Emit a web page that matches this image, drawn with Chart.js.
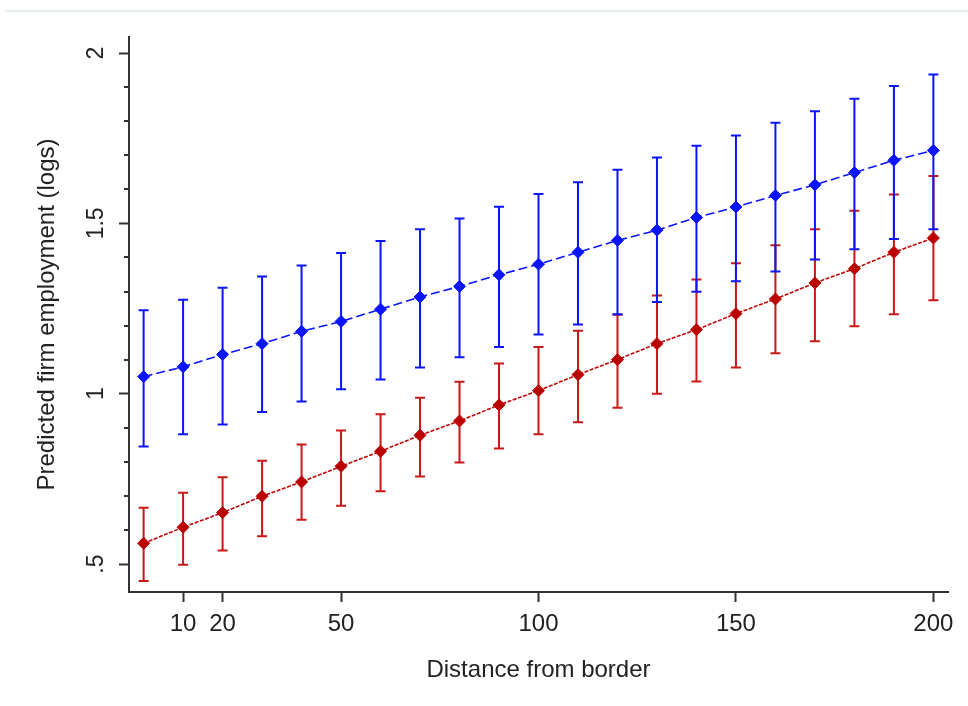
<!DOCTYPE html>
<html>
<head>
<meta charset="utf-8">
<script src="https://cdn.jsdelivr.net/npm/chart.js@4"></script>
<style>
  body { margin: 0; background: #fff; }
  #wrap { position: relative; width: 968px; height: 706px; }
  #topline { position: absolute; left: 5px; right: 0; top: 10px; height: 2px; background: #e8f0ef; }
</style>
</head>
<body>
<div id="wrap">
  <div id="topline"></div>
  <canvas id="c" width="968" height="706"></canvas>
</div>
<script>
// distance from border
const distance = [0, 10, 20, 30, 40, 50, 60, 70, 80, 90, 100, 110, 120, 130, 140, 150, 160, 170, 180, 190, 200];

// blue series: prediction with 95% CI
const blueMean = [1.050, 1.079, 1.115, 1.147, 1.183, 1.212, 1.248, 1.284, 1.315, 1.349, 1.380, 1.415, 1.450, 1.480, 1.517, 1.548, 1.582, 1.613, 1.649, 1.685, 1.714];
const blueLow  = [0.845, 0.881, 0.910, 0.946, 0.977, 1.013, 1.042, 1.077, 1.107, 1.137, 1.174, 1.203, 1.233, 1.269, 1.299, 1.330, 1.359, 1.394, 1.424, 1.454, 1.483];
const blueHigh = [1.245, 1.276, 1.311, 1.344, 1.376, 1.413, 1.448, 1.483, 1.514, 1.549, 1.586, 1.621, 1.657, 1.693, 1.728, 1.758, 1.795, 1.829, 1.866, 1.903, 1.937];

// red series
const redMean = [0.561, 0.608, 0.651, 0.699, 0.741, 0.787, 0.831, 0.878, 0.920, 0.967, 1.009, 1.056, 1.100, 1.147, 1.188, 1.235, 1.278, 1.325, 1.367, 1.415, 1.457];
const redLow  = [0.450, 0.498, 0.540, 0.582, 0.630, 0.671, 0.714, 0.757, 0.798, 0.839, 0.881, 0.916, 0.959, 1.000, 1.036, 1.077, 1.119, 1.154, 1.198, 1.233, 1.274];
const redHigh = [0.665, 0.709, 0.755, 0.803, 0.851, 0.892, 0.940, 0.988, 1.035, 1.089, 1.137, 1.185, 1.232, 1.288, 1.335, 1.383, 1.436, 1.483, 1.537, 1.585, 1.639];

// ticks
const xTickVals = [10, 20, 50, 100, 150, 200];
const yTickVals = [0.5, 1, 1.5, 2];
const yTickLabels = ['.5', '1', '1.5', '2'];
const yMinorTicks = [0.6, 0.7, 0.8, 0.9, 1.1, 1.2, 1.3, 1.4, 1.6, 1.7, 1.8, 1.9];

const BLUE = '#0a14ff';
const RED = '#bb0000';
const RED_BAR = '#c81818';
const AXIS = '#333333';
const FONT = 'Liberation Sans, Arial, sans-serif';

const pts = (ys) => distance.map((x, i) => ({x: x, y: ys[i]}));

const errorBars = {
  id: 'errorBars',
  beforeDatasetsDraw(chart) {
    const {ctx, scales: {x, y}} = chart;
    const groups = [
      {lo: redLow, hi: redHigh, color: RED_BAR},
      {lo: blueLow, hi: blueHigh, color: BLUE}
    ];
    ctx.save();
    ctx.lineWidth = 2;
    groups.forEach(g => {
      ctx.strokeStyle = g.color;
      distance.forEach((d, i) => {
        const px = x.getPixelForValue(d);
        const y1 = y.getPixelForValue(g.lo[i]);
        const y2 = y.getPixelForValue(g.hi[i]);
        ctx.beginPath();
        ctx.moveTo(px, y1); ctx.lineTo(px, y2);
        ctx.moveTo(px - 5, y1); ctx.lineTo(px + 5, y1);
        ctx.moveTo(px - 5, y2); ctx.lineTo(px + 5, y2);
        ctx.stroke();
      });
    });
    ctx.restore();
  },
  afterDraw(chart) {
    const {ctx, scales: {y}} = chart;
    ctx.save();
    ctx.strokeStyle = AXIS;
    ctx.lineWidth = 2;
    yMinorTicks.forEach(v => {
      const py = Math.round(y.getPixelForValue(v));
      ctx.beginPath();
      ctx.moveTo(y.right - 5, py);
      ctx.lineTo(y.right, py);
      ctx.stroke();
    });
    ctx.restore();
  }
};

new Chart(document.getElementById('c'), {
  type: 'line',
  data: {
    datasets: [
      {
        label: 'blue',
        data: pts(blueMean),
        borderColor: BLUE,
        backgroundColor: BLUE,
        borderWidth: 1.6,
        borderDash: [9, 4],
        pointStyle: 'rectRot',
        pointRadius: 6,
        pointBorderWidth: 1,
        pointBorderColor: BLUE,
        pointBackgroundColor: BLUE,
        fill: false,
        tension: 0
      },
      {
        label: 'red',
        data: pts(redMean),
        borderColor: '#c00808',
        backgroundColor: RED,
        borderWidth: 1.6,
        borderDash: [4, 1.5],
        pointStyle: 'rectRot',
        pointRadius: 6,
        pointBorderWidth: 1,
        pointBorderColor: RED,
        pointBackgroundColor: RED,
        fill: false,
        tension: 0
      }
    ]
  },
  options: {
    responsive: false,
    animation: false,
    layout: {padding: {left: 0, top: 37, right: 20, bottom: 0}},
    plugins: {legend: {display: false}, tooltip: {enabled: false}},
    scales: {
      x: {
        type: 'linear',
        min: -3.7,
        max: 203.7,
        afterBuildTicks: (s) => { s.ticks = xTickVals.map(v => ({value: v})); },
        afterFit: (s) => { s.height = 114; },
        grid: {drawOnChartArea: false, drawTicks: true, tickLength: 10, tickWidth: 2, tickColor: AXIS},
        border: {display: true, color: AXIS, width: 2},
        ticks: {color: '#222', font: {family: FONT, size: 24}, padding: 8, maxRotation: 0, autoSkip: false},
        title: {display: true, text: 'Distance from border', color: '#222', font: {family: FONT, size: 24}, padding: {bottom: 21}}
      },
      y: {
        type: 'linear',
        min: 0.418,
        max: 2.047,
        afterBuildTicks: (s) => { s.ticks = yTickVals.map(v => ({value: v})); },
        afterFit: (s) => { s.width = 129; },
        grid: {drawOnChartArea: false, drawTicks: true, tickLength: 10, tickWidth: 2, tickColor: AXIS},
        border: {display: true, color: AXIS, width: 2},
        ticks: {
          color: '#222', font: {family: FONT, size: 23}, padding: 6,
          minRotation: 90, maxRotation: 90, crossAlign: 'center', autoSkip: false,
          callback: (v, i) => yTickLabels[i]
        },
        title: {display: true, text: 'Predicted firm employment (logs)', color: '#222', font: {family: FONT, size: 24}, padding: {top: 33}}
      }
    }
  },
  plugins: [errorBars]
});
</script>
</body>
</html>
